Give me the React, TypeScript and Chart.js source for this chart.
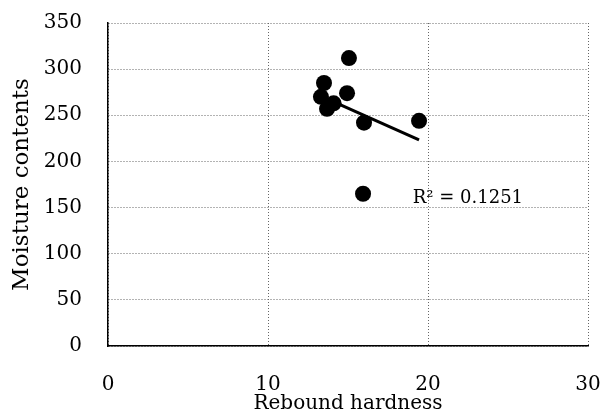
import React, { useEffect, useRef } from "react";
import { Chart, registerables } from "chart.js";

Chart.register(...registerables);

const hardness = [15.06, 13.5, 14.94, 13.31, 13.69, 14.1, 16.0, 19.44, 15.94];
const moisture = [312, 285, 274, 270, 257, 263, 242, 244, 165];
const r2Label = "R² = 0.1251";
const r2Pos = { x: 19.05, y: 160 };
const xTicks = [0, 10, 20, 30];
const yTicks = [0, 50, 100, 150, 200, 250, 300, 350];

function fitLine(xs: number[], ys: number[]) {
  const n = xs.length;
  const mx = xs.reduce((a, b) => a + b, 0) / n;
  const my = ys.reduce((a, b) => a + b, 0) / n;
  let sxy = 0, sxx = 0;
  for (let i = 0; i < n; i++) {
    sxy += (xs[i] - mx) * (ys[i] - my);
    sxx += (xs[i] - mx) ** 2;
  }
  const b = sxy / sxx;
  const a = my - b * mx;
  const x0 = Math.min(...xs), x1 = Math.max(...xs);
  return [
    { x: x0, y: a + b * x0 },
    { x: x1, y: a + b * x1 },
  ];
}

const FONT = "'DejaVu Serif', 'Liberation Serif', serif";

export default function App() {
  const ref = useRef<HTMLCanvasElement | null>(null);
  useEffect(() => {
    document.body.style.margin = "0";
    const canvas = ref.current!;
    const labelPlugin = {
      id: "r2label",
      afterDatasetsDraw(chart: any) {
        const { ctx, scales } = chart;
        const px = scales.x.getPixelForValue(r2Pos.x);
        const py = scales.y.getPixelForValue(r2Pos.y);
        ctx.save();
        ctx.fillStyle = "#000";
        ctx.font = `18px ${FONT}`;
        ctx.textAlign = "left";
        ctx.textBaseline = "middle";
        ctx.fillText(r2Label, px, py);
        ctx.restore();
      },
    };
    const chart = new Chart(canvas, {
      type: "scatter",
      data: {
        datasets: [
          {
            type: "line",
            data: fitLine(hardness, moisture),
            borderColor: "#000",
            borderWidth: 3,
            pointRadius: 0,
            fill: false,
          } as any,
          {
            data: hardness.map((x, i) => ({ x, y: moisture[i] })),
            backgroundColor: "#000",
            borderColor: "#000",
            borderWidth: 0,
            pointRadius: 8,
          },
        ],
      },
      options: {
        animation: false,
        responsive: false,
        layout: { padding: { top: 23, right: 17, left: 0, bottom: 0 } },
        plugins: { legend: { display: false }, tooltip: { enabled: false } },
        scales: {
          x: {
            type: "linear",
            min: 0,
            max: 30,
            afterBuildTicks: (s: any) => {
              s.ticks = xTicks.map((v) => ({ value: v }));
            },
            afterFit: (s: any) => {
              s.height = 70;
            },
            grid: {
              color: "#666",
              lineWidth: 1,
              drawTicks: true,
              tickLength: 25,
              tickColor: "rgba(0,0,0,0)",
            },
            border: { color: "#000", width: 1.5, dash: [1, 2] },
            ticks: {
              color: "#000",
              font: { family: FONT, size: 20 },
              padding: 2,
            },
            title: {
              display: true,
              text: "Rebound hardness",
              color: "#000",
              font: { family: FONT, size: 20 },
              padding: { top: 0, bottom: 0 },
            },
          },
          y: {
            type: "linear",
            min: 0,
            max: 350,
            afterBuildTicks: (s: any) => {
              s.ticks = yTicks.map((v) => ({ value: v }));
            },
            afterFit: (s: any) => {
              s.width = 108;
            },
            grid: {
              color: "#666",
              lineWidth: 1,
              drawTicks: true,
              tickLength: 24,
              tickColor: "rgba(0,0,0,0)",
            },
            border: { color: "#000", width: 1.5, dash: [1, 2] },
            ticks: {
              color: "#000",
              font: { family: FONT, size: 20 },
              padding: 2,
            },
            title: {
              display: true,
              text: "Moisture contents",
              color: "#000",
              font: { family: FONT, size: 23 },
              padding: { top: 8, bottom: 0 },
            },
          },
        },
      } as any,
      plugins: [labelPlugin],
    });
    return () => chart.destroy();
  }, []);
  return <canvas ref={ref} width={605} height={416} style={{ display: "block" }} />;
}
